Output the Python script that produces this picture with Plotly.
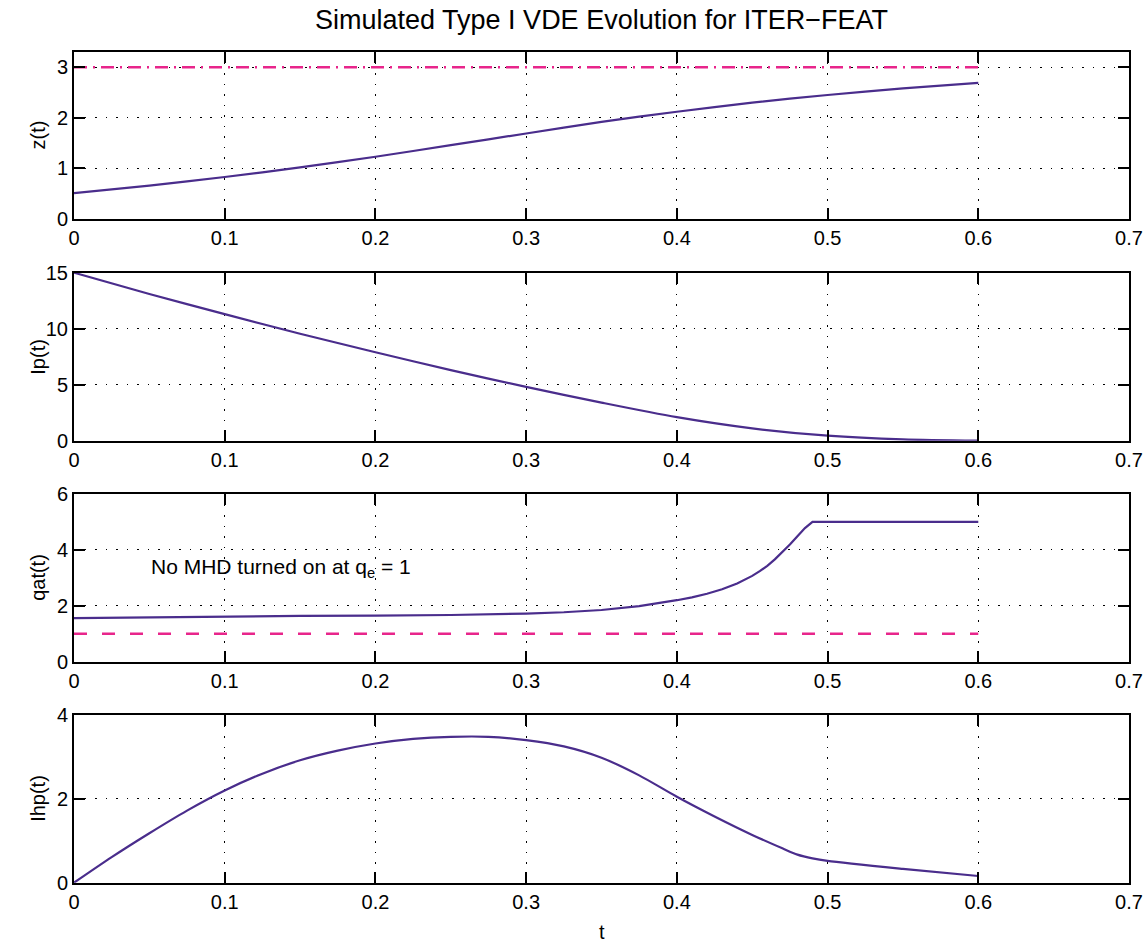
import plotly.graph_objects as go

# ---------------- data ----------------
t_z = [0, 0.05, 0.1, 0.15, 0.2, 0.25, 0.3, 0.35, 0.4, 0.45, 0.5, 0.55, 0.6]
z_vals = [0.51, 0.66, 0.83, 1.02, 1.23, 1.46, 1.69, 1.92, 2.12, 2.30, 2.45, 2.58, 2.69]
z_limit_t = [0, 0.6]
z_limit = [3, 3]

t_ip = [0, 0.05, 0.1, 0.15, 0.2, 0.25, 0.3, 0.35, 0.4, 0.45, 0.5, 0.55, 0.6]
ip_vals = [15.0, 13.1, 11.3, 9.55, 7.9, 6.3, 4.8, 3.4, 2.1, 1.1, 0.45, 0.12, 0.0]

t_q = [0, 0.05, 0.1, 0.15, 0.2, 0.25, 0.3, 0.325, 0.35, 0.375, 0.4, 0.41, 0.42,
       0.43, 0.44, 0.45, 0.455, 0.46, 0.465, 0.47, 0.475, 0.48, 0.485, 0.49, 0.6]
q_vals = [1.56, 1.59, 1.62, 1.64, 1.65, 1.67, 1.72, 1.77, 1.85, 1.99, 2.20, 2.30, 2.43,
          2.59, 2.80, 3.07, 3.24, 3.43, 3.66, 3.91, 4.19, 4.49, 4.78, 5.0, 5.0]
q_limit_t = [0, 0.6]
q_limit = [1, 1]

t_h = [0, 0.025, 0.05, 0.075, 0.1, 0.125, 0.15, 0.175, 0.2, 0.225, 0.25, 0.275,
       0.3, 0.325, 0.35, 0.375, 0.4, 0.425, 0.45, 0.47, 0.48, 0.49, 0.5, 0.55, 0.6]
ihp_vals = [0, 0.61, 1.18, 1.72, 2.20, 2.60, 2.92, 3.15, 3.32, 3.43, 3.48, 3.48,
            3.40, 3.25, 2.98, 2.56, 2.05, 1.58, 1.14, 0.82, 0.67, 0.58, 0.52, 0.33, 0.16]

y_labels = ["z(t)", "Ip(t)", "qat(t)", "Ihp(t)"]
y_ranges = [[0, 3.3], [0, 15], [0, 6], [0, 4]]
y_dticks = [1, 5, 2, 2]
x_ticks = [0, 0.1, 0.2, 0.3, 0.4, 0.5, 0.6, 0.7]
title_text = "Simulated Type I VDE Evolution for ITER\u2212FEAT"
note_text = "No MHD turned on at q<sub>e</sub> = 1"

# ---------------- style ----------------
W, H = 1146, 943
FONT = "Liberation Sans, Arial, Helvetica, sans-serif"
PURPLE = "#4a2d8c"
MAGENTA = "#e8258b"
x_dom = [74 / W, 1129 / W]
panels_px = [(52, 219), (272.7, 440.7), (494, 661.7), (715, 882.7)]
y_doms = [[1 - b / H, 1 - t / H] for (t, b) in panels_px]

fig = go.Figure()

# limit lines first (behind)
fig.add_trace(go.Scatter(x=z_limit_t, y=z_limit, mode="lines", xaxis="x", yaxis="y",
                         line=dict(color=MAGENTA, width=2.5, dash="13px,6px,2px,6px"),
                         showlegend=False, hoverinfo="skip"))
fig.add_trace(go.Scatter(x=q_limit_t, y=q_limit, mode="lines", xaxis="x3", yaxis="y3",
                         line=dict(color=MAGENTA, width=2.5, dash="13px,15px"),
                         showlegend=False, hoverinfo="skip"))
series = [
    (t_z, z_vals, 1, "spline"),
    (t_ip, ip_vals, 2, "spline"),
    (t_q, q_vals, 3, "linear"),
    (t_h, ihp_vals, 4, "spline"),
]
for tx, vy, i, shape in series:
    sfx = "" if i == 1 else str(i)
    fig.add_trace(go.Scatter(x=tx, y=vy, mode="lines", xaxis="x" + sfx, yaxis="y" + sfx,
                             line=dict(color=PURPLE, width=2.2, shape=shape,
                                       smoothing=0.8 if shape == "spline" else None),
                             showlegend=False))

axis_common = dict(
    showline=True, linecolor="black", linewidth=2, mirror="ticks",
    ticks="inside", ticklen=11, tickwidth=2, tickcolor="black",
    showgrid=True, gridcolor="black", gridwidth=1, griddash="1.5px,9px",
    zeroline=False, tickfont=dict(family=FONT, size=20, color="black"),
    fixedrange=True, automargin=False,
)
layout = dict(
    width=W, height=H, margin=dict(l=0, r=0, t=0, b=0, pad=0),
    paper_bgcolor="white", plot_bgcolor="white", showlegend=False,
    font=dict(family=FONT, color="black"),
)
for i in range(4):
    sfx = "" if i == 0 else str(i + 1)
    layout["xaxis" + sfx] = dict(axis_common, domain=x_dom, range=[0, 0.7],
                                 tickvals=x_ticks, ticktext=[f"{v:g}" for v in x_ticks],
                                 anchor="y" + sfx)
    layout["yaxis" + sfx] = dict(axis_common, domain=y_doms[i], range=y_ranges[i],
                                 tick0=0, dtick=y_dticks[i], anchor="x" + sfx)

annotations = [
    dict(text=title_text, x=601.5 / W, y=1 - 20 / H, xref="paper", yref="paper",
         showarrow=False, xanchor="center", yanchor="middle",
         font=dict(family=FONT, size=27, color="black")),
    dict(text="t", x=601.5 / W, y=1 - 932 / H, xref="paper", yref="paper",
         showarrow=False, xanchor="center", yanchor="middle",
         font=dict(family=FONT, size=20, color="black")),
    dict(text=note_text, x=0.05, y=3.35, xref="x3", yref="y3",
         showarrow=False, xanchor="left", yanchor="middle",
         font=dict(family=FONT, size=21, color="black")),
]
for i, lab in enumerate(y_labels):
    t_px, b_px = panels_px[i]
    annotations.append(dict(text=lab, x=38 / W, y=1 - (t_px + b_px) / 2 / H,
                            xref="paper", yref="paper", showarrow=False,
                            textangle=-90, xanchor="center", yanchor="middle",
                            font=dict(family=FONT, size=20, color="black")))
layout["annotations"] = annotations

fig.update_layout(**layout)
fig.write_html("out.html")
